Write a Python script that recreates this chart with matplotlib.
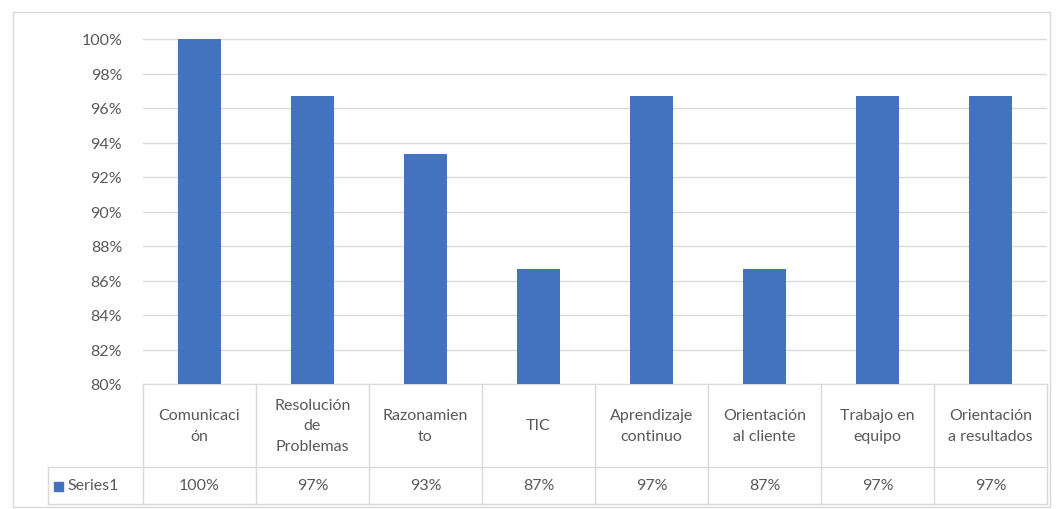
import matplotlib
matplotlib.use("Agg")
import matplotlib.pyplot as plt
from matplotlib.patches import Rectangle
from matplotlib.ticker import FuncFormatter, MultipleLocator

categories = [
    "Comunicaci\nón",
    "Resolución\nde\nProblemas",
    "Razonamien\nto",
    "TIC",
    "Aprendizaje\ncontinuo",
    "Orientación\nal cliente",
    "Trabajo en\nequipo",
    "Orientación\na resultados",
]
values = [1.0, 0.9667, 0.9333, 0.8667, 0.9667, 0.8667, 0.9667, 0.9667]
series_name = "Series1"

W, H = 1059, 510
bar_color = "#4372BF"
text_color = "#595959"
grid_color = "#D9D9D9"
font = ["Lato", "DejaVu Sans"]
fs = 11.5

fig = plt.figure(figsize=(W / 100, H / 100), dpi=100)
fig.patch.set_facecolor("white")

# chart border
fig.add_artist(Rectangle((13 / W, 1 - 508 / H), (1050 - 13) / W, (508 - 13) / H,
                         transform=fig.transFigure, fill=False,
                         edgecolor=grid_color, linewidth=1))

left, right, top, bottom = 143, 1047, 40, 385
ax = fig.add_axes([left / W, 1 - bottom / H, (right - left) / W, (bottom - top) / H])

x = list(range(len(values)))
ax.bar(x, values, width=0.38, color=bar_color, zorder=3)

ax.set_xlim(-0.5, len(values) - 0.5)
ax.set_ylim(0.80, 1.00)
ax.yaxis.set_major_locator(MultipleLocator(0.02))
ax.yaxis.set_major_formatter(FuncFormatter(lambda v, p: f"{v:.0%}"))
ax.grid(axis="y", color=grid_color, linewidth=1, zorder=0)
ax.set_xticks([])
for s in ["top", "right", "left"]:
    ax.spines[s].set_visible(False)
ax.spines["bottom"].set_color(grid_color)
ax.tick_params(axis="y", length=0, pad=15, labelsize=fs, labelcolor=text_color)
for t in ax.get_yticklabels():
    t.set_fontfamily(font)

# data table under the plot
px_h = bottom - top
px_w = (right - left) / len(values)
y_head = -(468 - bottom) / px_h
y_bot = -(505 - bottom) / px_h
x_key = -0.5 - (left - 48) / px_w
tr = ax.get_xaxis_transform()
lk = dict(color=grid_color, linewidth=1, clip_on=False, transform=tr)

for i in range(len(values) + 1):
    ax.plot([i - 0.5, i - 0.5], [0, y_bot], **lk)
ax.plot([x_key, len(values) - 0.5], [y_head, y_head], **lk)
ax.plot([x_key, len(values) - 0.5], [y_bot, y_bot], **lk)
ax.plot([x_key, x_key], [y_head, y_bot], **lk)

for i, (cat, v) in enumerate(zip(categories, values)):
    ax.text(i, y_head / 2, cat, transform=tr, ha="center", va="center",
            fontsize=fs, color=text_color, family=font, linespacing=1.6)
    ax.text(i, (y_head + y_bot) / 2, f"{v:.0%}", transform=tr, ha="center",
            va="center", fontsize=fs, color=text_color, family=font)

# legend key in the table
key_x = x_key + 6 / px_w
ax.add_patch(Rectangle((key_x, (y_head + y_bot) / 2 - 5 / px_h), 9 / px_w, 9 / px_h,
                       transform=tr, color=bar_color, clip_on=False))
ax.text(key_x + 13 / px_w, (y_head + y_bot) / 2, series_name, transform=tr,
        ha="left", va="center", fontsize=fs, color=text_color, family=font)

fig.savefig("out.png", dpi=100, facecolor="white")
